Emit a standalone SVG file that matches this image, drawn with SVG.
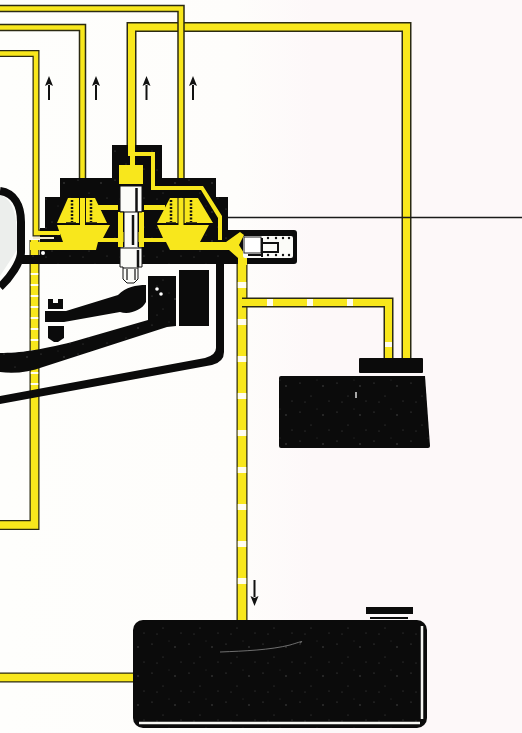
<svg xmlns="http://www.w3.org/2000/svg" width="522" height="733" viewBox="0 0 522 733">
<style>
.o{fill:none;stroke:#2b2a12;stroke-linejoin:miter}
.y{fill:none;stroke:#f8e71c;stroke-linejoin:miter}
.d{fill:none;stroke:#fffdf0}
.k{fill:#0b0b0b}
.s{fill:url(#sp)}
.yf{fill:#f8e71c}
.w{fill:#fbfbf8}
.ar{stroke:#111;stroke-width:2;fill:none;marker-end:url(#ah)}
.ln{stroke:#111;fill:none}
</style>
<defs>
<marker id="ah" markerWidth="12" markerHeight="10" refX="1" refY="4.500" orient="auto" markerUnits="userSpaceOnUse" viewBox="0 0 12 9"><path d="M0 0.500L10 4.500L0 8.500L2 4.500Z" fill="#111"/></marker>
<pattern id="sp" width="37" height="29" patternUnits="userSpaceOnUse">
<g fill="#fff" opacity=".3"><circle cx="4" cy="6" r=".6"/><circle cx="15" cy="19" r=".5"/><circle cx="27" cy="9" r=".7"/><circle cx="33" cy="24" r=".5"/><circle cx="9" cy="25" r=".5"/><circle cx="21" cy="3" r=".4"/></g>
</pattern>
<linearGradient id="bg" x1="0" x2="1" y1="0" y2="0"><stop offset="0" stop-color="#fefefc"/><stop offset=".45" stop-color="#fefdfb"/><stop offset=".6" stop-color="#fdf8f9"/><stop offset="1" stop-color="#fdf8f9"/></linearGradient>
</defs>
<rect width="522" height="733" fill="url(#bg)"/>
<path d="M0 195C16 200 18 225 17 250L0 276Z" fill="#eceeec"/>

<g id="connectors">
<path class="o" stroke-width="10" d="M131.500 155V27H406.500V360"/>
<path class="y" stroke-width="7" d="M131.500 155V27H406.500V360"/>
<path class="o" stroke-width="7.500" d="M0 8.500H181V225"/>
<path class="y" stroke-width="4.500" d="M0 8.500H181V225"/>
<path class="o" stroke-width="7.500" d="M0 27.500H82.500V225"/>
<path class="y" stroke-width="4.500" d="M0 27.500H82.500V225"/>
<path class="o" stroke-width="7" d="M0 53.500H36V233H60"/>
<path class="y" stroke-width="4.500" d="M0 53.500H36V233H60"/>
<path class="o" stroke-width="10" d="M0 525H34.500V240"/>
<path class="y" stroke-width="7.500" d="M0 525H34.500V240"/>
<path class="d" stroke-width="7.500" style="stroke-dasharray:2 9" d="M34.500 385V262"/>
<path class="o" stroke-width="11" d="M242 255V622"/>
<path class="y" stroke-width="8.500" d="M242 255V622"/>
<path class="d" stroke-width="8.500" style="stroke-dasharray:6 31" d="M242 282V600"/>
<path class="o" stroke-width="10" d="M242 302.500H388.500V360"/>
<path class="y" stroke-width="7" d="M242 302.500H388.500V360"/>
<path class="d" stroke-width="7" style="stroke-dasharray:6 34" d="M267 302.500H360"/>
<path class="d" stroke-width="7" style="stroke-dasharray:5 40" d="M388.500 342V348"/>
<path class="o" stroke-width="10" d="M0 677.500H134"/>
<path class="y" stroke-width="7.500" d="M0 677.500H134"/>
<path d="M228 217.500H522" stroke="#1a1a1a" stroke-width="1.300" fill="none"/>
<path class="ar" d="M49 100V85"/>
<path class="ar" d="M96 100V85"/>
<path class="ar" d="M146.500 100V85"/>
<path class="ar" d="M193 100V85"/>
<path class="ar" d="M254.500 580V597"/>
</g>

<g id="pump">
<path class="ln" stroke-width="8" style="stroke:#0b0b0b" d="M0 191C14 193 21 205 21 222V252C21 262 10 278 0 287"/>
<path class="k" d="M112 145H162V178H216V197H228V230H232V264H20V255H40V228H45V197H60V178H112Z"/>
<path class="s" d="M112 145H162V178H216V197H228V230H232V264H20V255H40V228H45V197H60V178H112Z"/>
<rect class="yf" x="119" y="165" width="24" height="19"/>
<path class="yf" d="M128 140H135V152H155V186H203L222 216V240H218V218L201 190H151V156H135V165H130V156H128Z"/>
<path class="yf" d="M57 223L68 198H95L107 223Z"/>
<path class="yf" d="M157 223L170 198H198L213 223Z"/>
<path class="yf" d="M30 242H63L57 225H110L103 238H118V232H144V238H163L157 225H209L200 242H232V250H170L166 242H98L96 250H30Z"/>
<path class="yf" d="M97 205H118V210H97Z M144 205H165V210H144Z"/>
<path d="M36 233H60" stroke="#f8e71c" stroke-width="4" fill="none"/>
<path d="M33 238H54" stroke="#f4ecd0" stroke-width="2" fill="none"/>
<path class="y" stroke-width="5" d="M82.500 198V225"/>
<path class="y" stroke-width="5" d="M181 198V225"/>
<path class="ln" stroke-width="1" d="M79.500 198V223M85.500 198V223M178 198V223M184 198V223"/>
<g class="ln" stroke-width="2.500" style="stroke-dasharray:2 1.500"><path d="M72 200V222M91 200V222M171 200V222M191 200V222"/></g>
<path class="ln" stroke-width="1.500" d="M66 223H76M86 223H97M166 223H176M186 223H197"/>
<path class="w" d="M120 186H142V212H138V247H142V267H138V279L134 283H127L123 279V267H120V247H124V212H120Z" stroke="#111" stroke-width="1"/>
<path class="yf" d="M118 212H123V247H118Z M139 212H144V247H139Z"/>
<path class="ln" stroke-width="2.500" d="M136.500 188V212M133 215V245M138 250V267"/>
<path class="ln" stroke-width="1.200" d="M120 212H142M120 248H142M123 268H138M127 269V280M135 269V280"/>
<circle cx="43" cy="253" r="2" fill="#fff"/>
</g>

<g id="valve">
<rect class="k" x="228" y="230" width="69" height="34" rx="3"/>
<path class="yf" d="M226 242L240 232L244 235L239 245L247 258V265H238V258L229 250H226Z"/>
<rect class="w" x="243" y="236" width="50" height="22" rx="2"/>
<rect x="244" y="237" width="17" height="16" fill="#fff" stroke="#222" stroke-width="1"/>
<path class="ln" stroke-width="2" d="M262 238V257M262 243H278V252H262M248 255H262"/>
<g fill="#111"><circle cx="268" cy="238" r="1.200"/><circle cx="276" cy="238" r="1.200"/><circle cx="283" cy="238" r="1.200"/><circle cx="289" cy="238" r="1.200"/><circle cx="268" cy="255" r="1.200"/><circle cx="276" cy="255" r="1.200"/><circle cx="283" cy="255" r="1.200"/><circle cx="289" cy="255" r="1.200"/></g>
</g>

<g id="mechanism">
<path class="k" d="M224 264V352Q224 362 212 365L0 404V396L205 358Q216 355 216 348V264Z"/>
<path class="k" d="M148 276H176V326L167 327L43 367C30 372 14 374 0 372V353C20 353 40 350 72 342L148 320Z"/>
<rect class="k" x="179" y="270" width="30" height="56"/>
<circle cx="157" cy="289" r="1.800" fill="#fff"/><circle cx="161" cy="294" r="1.800" fill="#fff"/>
<path class="k" d="M45 311L66 311L118 295C126 287 136 285 146 285V302C142 310 130 315 120 312L64 322H45Z"/>
<path class="k" d="M48 299H53V303H58V299H63V309H48Z"/>
<path class="k" d="M48 326H64V338L58 342H54L48 338Z"/>
<path class="s" d="M148 276H176V326L167 327L43 367C30 372 14 374 0 372V353C20 353 40 350 72 342L148 320Z"/>
</g>

<g id="filter">
<rect class="k" x="359" y="358" width="64" height="15" rx="1"/>
<path class="k" d="M281 376H425L430 446Q430 448 428 448H281Q279 448 279 446V378Q279 376 281 376Z"/>
<path class="s" d="M281 376H425L430 446Q430 448 428 448H281Q279 448 279 446V378Q279 376 281 376Z"/>
<path d="M356 392V398" stroke="#ddd" stroke-width="1.500"/>
</g>

<g id="tank">
<rect class="k" x="133" y="620" width="294" height="108" rx="10"/>
<rect class="s" x="133" y="620" width="294" height="108" rx="10"/>
<path d="M422 626V719M420 723H139" stroke="#f6f6f2" stroke-width="2.500" fill="none"/>
<path d="M220 652C245 651 270 650 290 645C300 642 305 640 300 643" stroke="#888" stroke-width=".8" fill="none"/>
<rect class="k" x="366" y="607" width="47" height="7"/>
<rect class="k" x="370" y="617" width="38" height="2"/>
</g>
</svg>
